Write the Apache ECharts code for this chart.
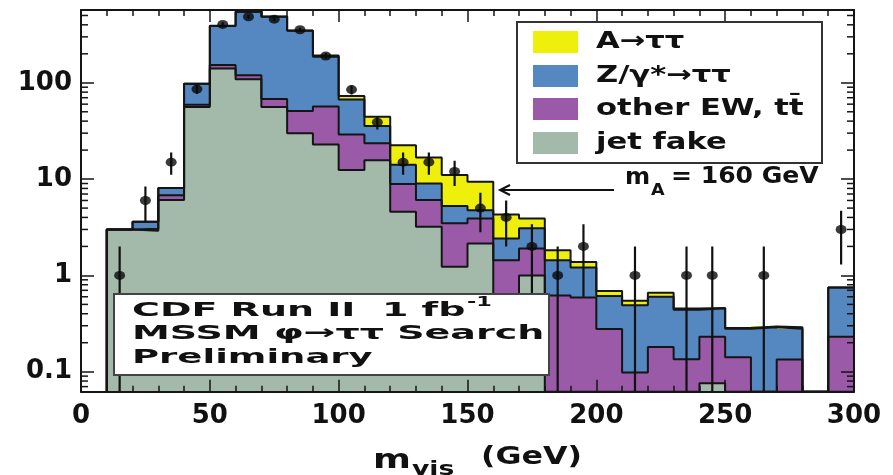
<!DOCTYPE html>
<html><head><meta charset="utf-8">
<script src="https://cdn.jsdelivr.net/npm/echarts@6/dist/echarts.min.js"></script>
<style>html,body{margin:0;padding:0;background:#fff}#c{width:893px;height:475px}</style>
</head><body><div id="c"></div>
<script>
// ---- data ----
const binLow  = [10,20,30,40,50,60,70,80,90,100,110,120,130,140,150,160,170,180,190,200,210,220,230,240,250,260,270,280,290];
const binWidth = 10;
const jetFake = [3.0,2.9,6.05,56,141,109,56,30,22.9,12.4,15.7,4.57,3.2,1.23,2.15,0.3,1.0,0,0,0,0,0,0,0.076,0,0,0,0,0];
const otherEW = [0,0.15,0.75,3,12,11,12,21,34,16.7,7.8,4.33,2.85,2.24,1.75,1.14,0.9,0.62,0.59,0.277,0.098,0.18,0.135,0.154,0.141,0,0.134,0,0.23];
const zTauTau = [0,0.55,1.3,39,235,426,416,296,129,37.9,12,5.2,2.95,1.78,0.86,0.98,1.18,0.82,0.62,0.333,0.392,0.42,0.305,0.225,0.139,0.29,0.146,0,0.52];
const aTauTau = [0,0,0,0,2,2,3,3,6,6,8.9,8.4,7.8,5.75,4.64,1.88,0.82,0.39,0.17,0.08,0.055,0.06,0.014,0.005,0.005,0.005,0.01,0,0];
const dataX   = [15,25,35,45,55,65,75,85,95,105,115,125,135,145,155,165,175,185,195,215,235,245,265,295];
const dataN   = [1,6,15,86,404,485,458,355,190,85,39,15,15,12,5,4,2,1,2,1,1,1,1,3];
const dataErr = [1,2.4,3.9,9.3,20.1,22,21.4,18.8,13.8,9.2,6.2,3.9,3.9,3.5,2.2,2,1.4,1,1.4,1,1,1,1,1.7];
const seriesNames = ['A\u2192\u03c4\u03c4','Z/\u03b3*\u2192\u03c4\u03c4','other EW, tt\u0304','jet fake'];
const yTickLabels = ['0.1','1','10','100'];   // exponents -1..2
const xTickLabels = ['0','50','100','150','200','250','300'];

// ---- styles ----
const Y_MIN = 0.062, Y_MAX = 570;
const COLORS = ['#eef00c','#5587c0','#9a5aa7','#a3b9aa'];
const FONT = '"DejaVu Sans", "Liberation Sans", sans-serif';

// cumulative stacks (top -> bottom)
const lvl1 = jetFake.slice();
const lvl2 = lvl1.map((v,i)=>v+otherEW[i]);
const lvl3 = lvl2.map((v,i)=>v+zTauTau[i]);
const lvl4 = lvl3.map((v,i)=>v+aTauTau[i]);
const levels = [lvl4,lvl3,lvl2,lvl1];

function fillSeries(vals, color, name){
  return {
    type:'custom', name, z:2, clip:true,
    data: binLow.map((b,i)=>[b, b+binWidth, vals[i]]),
    encode:{x:[0,1], y:2},
    renderItem:(params, api)=>{
      const v = api.value(2);
      if(!(v > Y_MIN)) return null;
      const p0 = api.coord([api.value(0), v]);
      const p1 = api.coord([api.value(1), Y_MIN]);
      const x0 = Math.round(p0[0]), x1 = Math.round(p1[0]), y0 = Math.round(p0[1]), y1 = Math.round(p1[1]);
      return {type:'rect', shape:{x:x0, y:y0, width:x1-x0, height:y1-y0},
              style:{fill:color}};
    }
  };
}
function outlineSeries(vals){
  const pts = [[binLow[0], Y_MIN]];
  binLow.forEach((b,i)=>pts.push([b, Math.max(vals[i], Y_MIN)]));
  const last = binLow[binLow.length-1]+binWidth;
  pts.push([last, Math.max(vals[vals.length-1], Y_MIN)]);
  pts.push([last, Y_MIN]);
  return {type:'line', step:'end', data:pts, symbol:'none', z:2, silent:true,
          lineStyle:{color:'#151515', width:2}};
}

const series = [];
levels.forEach((lv,k)=>{ series.push(fillSeries(lv, COLORS[k], seriesNames[k])); series.push(outlineSeries(lv)); });

// minor log ticks
const minorVals = [];
for(let e=-2;e<=2;e++) for(let k=2;k<=9;k++){ const v=k*Math.pow(10,e); if(v>Y_MIN && v<Y_MAX) minorVals.push(v); }
series.push({
  type:'custom', z:5, silent:true, clip:false,
  data: minorVals.map(v=>[0,v]), encode:{x:0,y:1},
  renderItem:(params, api)=>{
    const cs = params.coordSys;
    const y = api.coord([0, api.value(1)])[1];
    return {type:'group', children:[
      {type:'line', shape:{x1:cs.x, y1:y, x2:cs.x+7, y2:y}, style:{stroke:'#151515', lineWidth:1.5}},
      {type:'line', shape:{x1:cs.x+cs.width, y1:y, x2:cs.x+cs.width-7, y2:y}, style:{stroke:'#151515', lineWidth:1.5}}
    ]};
  }
});
// error bars
series.push({
  type:'custom', z:6, silent:true, clip:true,
  data: dataX.map((x,i)=>[x, dataN[i], dataErr[i]]), encode:{x:0,y:1},
  renderItem:(params, api)=>{
    const x = api.value(0), n = api.value(1), e = api.value(2);
    const lo = Math.max(n-e, Y_MIN), hi = n+e;
    const a = api.coord([x, hi]), b = api.coord([x, lo]);
    return {type:'line', shape:{x1:a[0], y1:a[1], x2:b[0], y2:b[1]}, style:{stroke:'#111', lineWidth:2.2}};
  }
});
series.push({
  type:'scatter', z:7, silent:true, symbol:'circle', symbolSize:[11,9],
  data: dataX.map((x,i)=>[x, dataN[i]]), itemStyle:{color:'#0a0a0a'}
});

const axisLineStyle = {color:'#151515', width:2};
function xAxisDef(pos, labels){
  return {type:'value', position:pos, min:0, max:300, interval:50, z:10,
    axisLine:{show:true, onZero:false, lineStyle:axisLineStyle},
    axisTick:{show:true, inside:true, length:12, lineStyle:{color:'#151515', width:1.5}},
    minorTick:{show:true, splitNumber:5, length:6, lineStyle:{color:'#151515', width:1.5}},
    splitLine:{show:false}, minorSplitLine:{show:false},
    axisLabel:{show:labels, margin:12, color:'#111', fontFamily:FONT, fontWeight:'bold', fontSize:26,
      formatter:v=>xTickLabels[Math.round(v/50)] ?? ''}
  };
}
function yAxisDef(pos, labels){
  return {type:'log', logBase:10, position:pos, min:Y_MIN, max:Y_MAX, z:10,
    axisLine:{show:true, onZero:false, lineStyle:axisLineStyle},
    axisTick:{show:true, inside:true, length:13, lineStyle:{color:'#151515', width:1.5}},
    splitLine:{show:false},
    axisLabel:{show:labels, margin:9, color:'#111', fontFamily:FONT, fontWeight:'bold', fontSize:26,
      showMinLabel:false, showMaxLabel:false,
      formatter:v=>{ const l=Math.log10(v), r=Math.round(l); if(Math.abs(l-r)>1e-6) return ''; return yTickLabels[r+1] ?? ''; }}
  };
}

const T = (text, x, y, size, sx, extra) => Object.assign({type:'text', x, y, scaleX:sx, z:100,
  style:{text, font:'bold '+size+'px '+FONT, fill:'#111', align:'left', verticalAlign:'middle'}}, extra||{});

const legendY = [42, 76, 109, 143];
const graphic = [
  // legend box
  {type:'rect', z:99, shape:{x:517, y:22, width:305, height:141}, style:{fill:'#fff', stroke:'#333', lineWidth:2}},
  ...legendY.map((y,i)=>({type:'rect', z:100, shape:{x:533, y:y-11, width:45, height:22}, style:{fill:COLORS[i]}})),
  ...legendY.map((y,i)=>T(seriesNames[i], 596, y, 23, 1.33)),
  // arrow annotation
  {type:'line', z:100, shape:{x1:614, y1:190, x2:500, y2:190}, style:{stroke:'#111', lineWidth:2}},
  {type:'polyline', z:100, shape:{points:[[510,185],[500,190],[510,195]]}, style:{stroke:'#111', lineWidth:2, fill:null}},
  T('m', 625, 178, 23, 1.05),
  T('A', 651, 191, 16, 1.1),
  T('= 160 GeV', 671, 177, 23, 1.09),
  // CDF box
  {type:'rect', z:99, shape:{x:114, y:294, width:435, height:81}, style:{fill:'#fff', stroke:'#444', lineWidth:2}},
  T('CDF Run II  1 fb', 132, 311, 20, 1.9),
  T('-1', 467, 302, 14, 1.6),
  T('MSSM \u03c6\u2192\u03c4\u03c4 Search', 132, 334, 20, 1.9),
  T('Preliminary', 132, 358, 20, 1.85),
  // axis title
  T('m', 373, 461, 26, 1.4),
  T('vis', 412, 470, 19, 1.4),
  T('(GeV)', 481, 458, 24, 1.32)
];

const chart = echarts.init(document.getElementById('c'), null, {renderer:'canvas'});
chart.setOption({
  animation:false,
  backgroundColor:'#fff',
  grid:{left:81, right:39, top:10, bottom:83.3, containLabel:false},
  xAxis:[xAxisDef('bottom', true), xAxisDef('top', false)],
  yAxis:[yAxisDef('left', true), yAxisDef('right', false)],
  series,
  graphic
});
</script></body></html>
